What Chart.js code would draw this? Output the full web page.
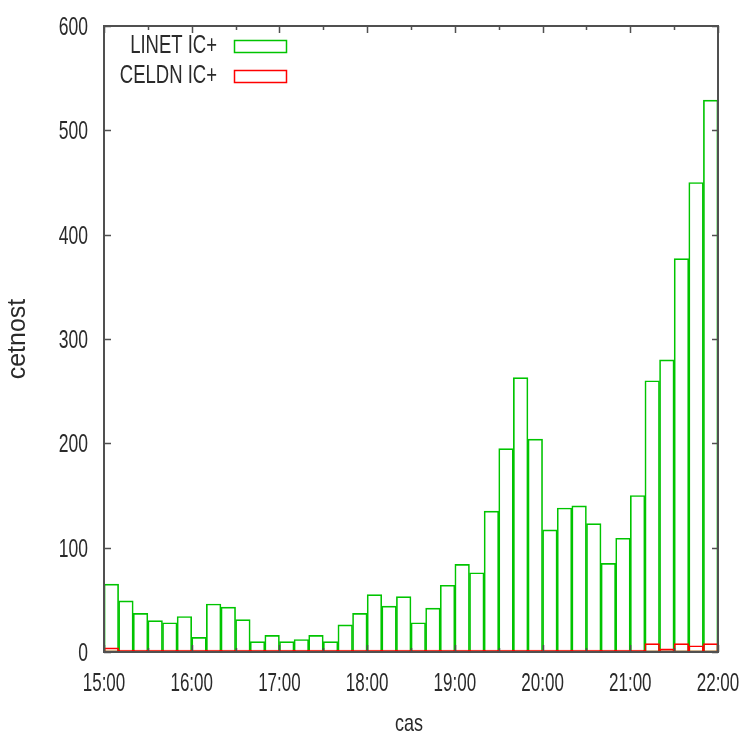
<!DOCTYPE html>
<html>
<head>
<meta charset="utf-8">
<title>cetnost</title>
<script src="https://cdn.jsdelivr.net/npm/chart.js@4"></script>
<style>
  html, body { margin: 0; padding: 0; background: #fff; }
  #wrap { width: 742px; height: 738px; }
</style>
</head>
<body>
<div id="wrap"><canvas id="histChart" width="742" height="738"></canvas></div>
<script>
  // 10 minute bins, start of each bin
  const binStarts = [
    '15:00', '15:10', '15:20', '15:30', '15:40', '15:50',
    '16:00', '16:10', '16:20', '16:30', '16:40', '16:50',
    '17:00', '17:10', '17:20', '17:30', '17:40', '17:50',
    '18:00', '18:10', '18:20', '18:30', '18:40', '18:50',
    '19:00', '19:10', '19:20', '19:30', '19:40', '19:50',
    '20:00', '20:10', '20:20', '20:30', '20:40', '20:50',
    '21:00', '21:10', '21:20', '21:30', '21:40', '21:50'
  ];
  const linetCounts = [
    65, 49, 37, 30, 28, 34, 14, 46, 43, 31, 10, 16, 10, 12,
    16, 10, 26, 37, 55, 44, 53, 28, 42, 64, 84, 76, 135, 195,
    263, 204, 117, 138, 140, 123, 85, 109, 150, 260, 280, 377, 450, 529
  ];
  const celdnCounts = [
    4, 0, 0, 0, 0, 0, 0, 0, 0, 0, 0, 0, 0, 0,
    0, 0, 0, 0, 0, 0, 0, 0, 0, 0, 0, 0, 0, 0,
    0, 0, 0, 0, 0, 0, 0, 0, 0, 8, 3, 8, 6, 8
  ];
  const seriesNames = ['LINET IC+', 'CELDN IC+'];
  const hourTicks = ['15:00', '16:00', '17:00', '18:00', '19:00', '20:00', '21:00', '22:00'];
  const yTicks = [0, 100, 200, 300, 400, 500, 600];
  const binMinutes = 10;

  const toHours = s => {
    const [h, m] = s.split(':').map(Number);
    return h + m / 60;
  };
  const binCenter = s => toHours(s) + binMinutes / 120;

  const sans = "'Liberation Sans', Arial, sans-serif";
  const textColor = '#2a2a2a';
  const frameColor = '#505050';

  // condensed text, like the old png terminal fonts
  function squashText(ctx, text, x, y, sx, align) {
    ctx.save();
    ctx.translate(x, y);
    ctx.scale(sx, 1);
    ctx.textAlign = align;
    ctx.fillText(text, 0, 0);
    ctx.restore();
  }

  // gnuplot-like frame: box, inward tick marks, tick labels and x label
  const framePlugin = {
    id: 'frame',
    afterDatasetsDraw(chart) {
      const { ctx, chartArea: a, scales: { x, y } } = chart;
      ctx.save();
      ctx.strokeStyle = frameColor;
      ctx.lineWidth = 2;
      ctx.strokeRect(a.left, a.top, a.right - a.left, a.bottom - a.top);
      ctx.lineWidth = 1.5;
      ctx.beginPath();
      y.ticks.forEach(t => {
        const py = Math.round(y.getPixelForValue(t.value)) + 0.5;
        ctx.moveTo(a.left, py); ctx.lineTo(a.left + 7, py);
        ctx.moveTo(a.right, py); ctx.lineTo(a.right - 6, py);
      });
      x.ticks.forEach((t, i) => {
        const px = Math.round(x.getPixelForValue(t.value)) + 0.5;
        ctx.moveTo(px, a.top); ctx.lineTo(px, a.top + 7);
        ctx.moveTo(px, a.bottom); ctx.lineTo(px, a.bottom - 7);
        if (i < x.ticks.length - 1) {
          const mx = Math.round(x.getPixelForValue(t.value + 0.5)) + 0.5;
          ctx.moveTo(mx, a.top); ctx.lineTo(mx, a.top + 4);
          ctx.moveTo(mx, a.bottom); ctx.lineTo(mx, a.bottom - 4);
        }
      });
      ctx.stroke();

      ctx.fillStyle = textColor;
      ctx.font = '25px ' + sans;
      ctx.textBaseline = 'alphabetic';
      y.ticks.forEach(t => {
        squashText(ctx, String(t.value), a.left - 16, y.getPixelForValue(t.value) + 9, 0.7, 'right');
      });
      x.ticks.forEach((t, i) => {
        squashText(ctx, hourTicks[i], x.getPixelForValue(t.value), a.bottom + 38.5, 0.68, 'center');
      });
      ctx.font = '24px ' + sans;
      squashText(ctx, 'cas', (a.left + a.right) / 2 - 2, 730.5, 0.75, 'center');
      ctx.restore();
    }
  };

  // key in the top left corner: label first, then the sample box
  const keyPlugin = {
    id: 'key',
    afterDraw(chart) {
      const { ctx, chartArea: a } = chart;
      ctx.save();
      ctx.font = '25px ' + sans;
      ctx.textBaseline = 'alphabetic';
      chart.data.datasets.forEach((ds, i) => {
        const by = a.top + 27 + i * 30;
        ctx.fillStyle = textColor;
        squashText(ctx, ds.label, 217, by, 0.74, 'right');
        ctx.strokeStyle = ds.borderColor;
        ctx.lineWidth = 1.5;
        ctx.strokeRect(234.5, by - 12.5, 52, 12);
      });
      ctx.restore();
    }
  };

  new Chart(document.getElementById('histChart'), {
    type: 'bar',
    data: {
      datasets: [
        {
          label: seriesNames[0],
          data: binStarts.map((s, i) => ({ x: binCenter(s), y: linetCounts[i] })),
          borderColor: '#00c400',
          backgroundColor: 'rgba(255,255,255,0)',
          borderWidth: 1,
          borderSkipped: false,
          order: 2
        },
        {
          label: seriesNames[1],
          data: binStarts.map((s, i) => ({ x: binCenter(s), y: celdnCounts[i] })),
          borderColor: '#ff0000',
          backgroundColor: 'rgba(255,255,255,0)',
          borderWidth: 1,
          borderSkipped: false,
          minBarLength: 2,
          order: 1
        }
      ]
    },
    options: {
      responsive: false,
      animation: false,
      grouped: false,
      barPercentage: 1,
      categoryPercentage: 1,
      layout: { padding: { left: 0, right: 24, top: 26, bottom: 0 } },
      plugins: {
        legend: { display: false },
        tooltip: { enabled: false }
      },
      scales: {
        x: {
          type: 'linear',
          offset: false,
          min: toHours(hourTicks[0]),
          max: toHours(hourTicks[hourTicks.length - 1]),
          afterBuildTicks: s => { s.ticks = hourTicks.map(t => ({ value: toHours(t) })); },
          ticks: { display: false },
          grid: { display: false, offset: false },
          border: { display: false },
          afterFit: s => { s.height = 86; }
        },
        y: {
          min: 0,
          max: 600,
          afterBuildTicks: s => { s.ticks = yTicks.map(v => ({ value: v })); },
          ticks: { display: false },
          grid: { display: false, drawTicks: false },
          border: { display: false },
          title: {
            display: true,
            text: 'cetnost',
            color: textColor,
            font: { family: sans, size: 25 },
            padding: { top: 3, bottom: 0 }
          },
          afterFit: s => { s.width = 104; }
        }
      }
    },
    plugins: [framePlugin, keyPlugin]
  });
</script>
</body>
</html>
